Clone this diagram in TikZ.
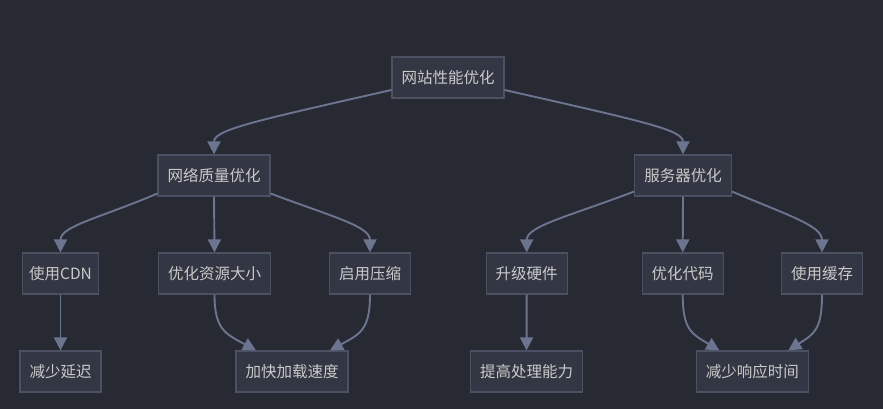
\documentclass[tikz,border=0pt]{standalone}
\usepackage{fontspec}
\usepackage{xcolor}
\usepackage{tikz}
\usetikzlibrary{arrows.meta}
\setmainfont{Noto Sans CJK SC}
\definecolor{bgc}{HTML}{272A33}
\definecolor{nodefill}{HTML}{333643}
\definecolor{nodeline}{HTML}{4B5162}
\definecolor{edgec}{HTML}{6B7590}
\definecolor{textc}{HTML}{CACACA}

\begin{document}
\begin{tikzpicture}[x=1pt, y=-1pt,
      box/.style={draw=nodeline, fill=nodefill, line width=1.2pt, minimum height=41pt, inner xsep=9.5pt, inner ysep=0pt, text=textc, font=\fontsize{15.5}{16}\selectfont},
      arr/.style={-{Triangle[length=13pt, width=13pt]}, line width=1.9pt, draw=edgec},
    ]
    \fill[bgc] (0,0) rectangle (883,409);
    \useasboundingbox (0,0) rectangle (883,409);
    % Nodes
    \node[box] (root) at (448,77.5) {网站性能优化};
    \node[box] (net) at (214,175.5) {网络质量优化};
    \node[box] (srv) at (683,175.5) {服务器优化};
    \node[box, inner xsep=7pt] (cdn) at (60.5,273.5) {使用CDN};
    \node[box] (res) at (214.5,273.5) {优化资源大小};
    \node[box] (gzip) at (370,273.5) {启用压缩};
    \node[box] (hw) at (526.7,273.5) {升级硬件};
    \node[box] (code) at (682.7,273.5) {优化代码};
    \node[box] (cache) at (822,273.5) {使用缓存};
    \node[box] (lat) at (60.5,371.5) {减少延迟};
    \node[box] (load) at (292,371.5) {加快加载速度};
    \node[box] (cpu) at (526.5,371.5) {提高处理能力};
    \node[box] (resp) at (752.3,371.5) {减少响应时间};

    % Paths
    \draw[arr] ([yshift=-12.5pt]root.west) .. controls (250,122) and (214,130) .. (net.north);
    \draw[arr] ([yshift=-12.5pt]root.east) .. controls (646,122) and (683,130) .. (srv.north);

    \draw[arr] ([yshift=-18pt]net.west) .. controls (100,218) and (60.5,226) .. (cdn.north);
    \draw[arr] (net.south) -- (res.north);
    \draw[arr] ([yshift=-18pt]net.east) .. controls (330,216) and (370,226) .. (gzip.north);

    \draw[arr] ([yshift=-16pt]srv.west) .. controls (570,216) and (526.7,226) .. (hw.north);
    \draw[arr] (srv.south) -- (code.north);
    \draw[arr] ([yshift=-16pt]srv.east) .. controls (790,216) and (822,226) .. (cache.north);

    \draw[arr] (cdn.south) -- (lat.north);
    \draw[arr] (res.south) .. controls (214.5,330) and (226,334) .. ([xshift=-36pt]load.north);
    \draw[arr] (gzip.south) .. controls (370,330) and (360,334) .. ([xshift=38pt]load.north);
    \draw[arr] (hw.south) -- (cpu.north);
    \draw[arr] (code.south) .. controls (682.7,330) and (692,334) .. ([xshift=-33pt]resp.north);
    \draw[arr] (cache.south) .. controls (822,330) and (814,334) .. ([xshift=36pt]resp.north);
  \end{tikzpicture}
\end{document}
